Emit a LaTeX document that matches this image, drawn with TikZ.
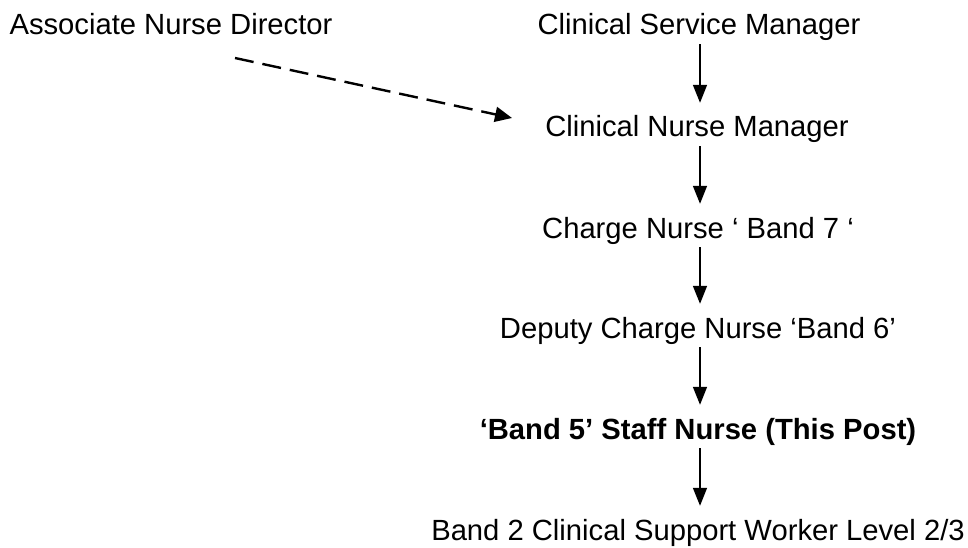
\documentclass[tikz,border=0pt]{standalone}
\usepackage{fontspec}
\setmainfont{Liberation Sans}
\usetikzlibrary{arrows.meta}
\begin{document}
\begin{tikzpicture}[x=1pt,y=-1pt,
  lbl/.style={anchor=base,inner sep=0pt,text height=21pt,text depth=6pt,font=\fontsize{29.2}{35}\selectfont},
  arr/.style={line width=1.6pt,-{Triangle[length=18pt,width=14pt]},shorten <=3pt,shorten >=13pt},
  darr/.style={line width=2.4pt,dash pattern=on 19pt off 9pt,-{Triangle[length=17pt,width=15pt]}}]
\useasboundingbox (0,0) rectangle (968,548);
\node[lbl] (and) at (171,35) {Associate Nurse Director};
\node[lbl] (csm) at (699,35) {Clinical Service Manager};
\node[lbl] (cnm) at (697,137) {Clinical Nurse Manager};
\node[lbl] (chn) at (698,238) {Charge Nurse ‘ Band 7 ‘};
\node[lbl] (dcn) at (698,338) {Deputy Charge Nurse ‘Band 6’};
\node[lbl,font=\fontsize{29.2}{35}\selectfont\bfseries] (sn) at (698,439) {‘Band 5’ Staff Nurse (This Post)};
\node[lbl] (csw) at (698,540) {Band 2 Clinical Support Worker Level 2/3};
\coordinate (ds) at (235,58);
\coordinate (de) at (512,118);
\draw[arr] (csm.south -| 700,0) -- (cnm.north -| 700,0);
\draw[arr] (cnm.south -| 700,0) -- (chn.north -| 700,0);
\draw[arr] (chn.south -| 700,0) -- (dcn.north -| 700,0);
\draw[arr] (dcn.south -| 700,0) -- (sn.north -| 700,0);
\draw[arr] (sn.south -| 700,0) -- (csw.north -| 700,0);
\draw[darr] (ds) -- (de);
\end{tikzpicture}
\end{document}
